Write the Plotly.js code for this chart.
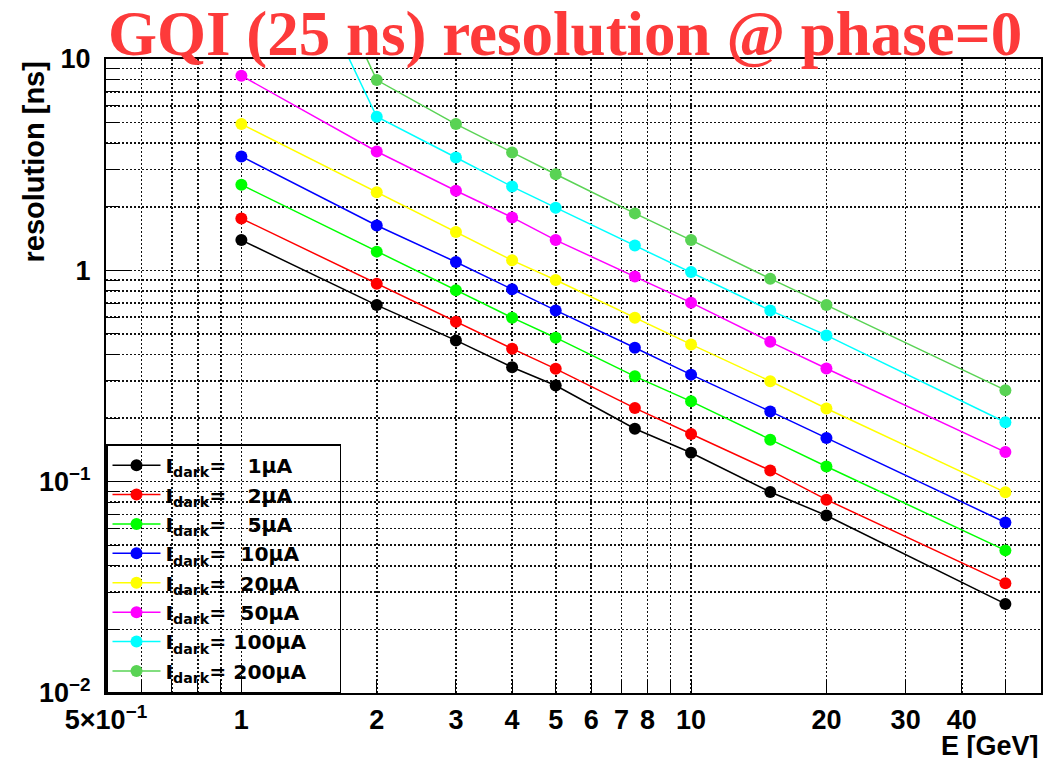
<!DOCTYPE html>
<html>
<head>
<meta charset="utf-8">
<script src="https://cdn.plot.ly/plotly-3.0.1.min.js"></script>
<style>
  html, body { margin: 0; padding: 0; background: #fff; }
  #chart { width: 1057px; height: 758px; }
</style>
</head>
<body>
<div id="chart"></div>
<script>
// Beam energies [GeV]
const energies = [1, 2, 3, 4, 5, 7.5, 10, 15, 20, 50];

// Time resolution [ns] for each dark current
const res_1uA   = [1.39, 0.685, 0.466, 0.348, 0.285, 0.178, 0.137, 0.0894, 0.0692, 0.0264];
const res_2uA   = [1.76, 0.865, 0.571, 0.426, 0.342, 0.223, 0.168, 0.113, 0.0822, 0.0331];
const res_5uA   = [2.54, 1.226, 0.804, 0.597, 0.480, 0.315, 0.240, 0.158, 0.118, 0.0473];
const res_10uA  = [3.46, 1.63, 1.095, 0.813, 0.646, 0.430, 0.321, 0.215, 0.161, 0.0641];
const res_20uA  = [4.92, 2.34, 1.52, 1.115, 0.90, 0.597, 0.446, 0.299, 0.222, 0.089];
const res_50uA  = [8.34, 3.65, 2.38, 1.78, 1.39, 0.934, 0.703, 0.459, 0.343, 0.138];
const res_100uA = [118, 5.33, 3.42, 2.49, 1.98, 1.31, 0.982, 0.646, 0.492, 0.191];
const res_200uA = [185, 7.95, 4.92, 3.61, 2.85, 1.86, 1.39, 0.913, 0.685, 0.271];

// Legend labels (non-breaking spaces keep the current values lined up and pad the box)
const NB = '\u00a0';
const pad = NB.repeat(4);
const seriesNames = [
  'I<sub>dark</sub>=' + NB.repeat(3) + '1\u03bcA' + pad,
  'I<sub>dark</sub>=' + NB.repeat(3) + '2\u03bcA' + pad,
  'I<sub>dark</sub>=' + NB.repeat(3) + '5\u03bcA' + pad,
  'I<sub>dark</sub>=' + NB.repeat(2) + '10\u03bcA' + pad,
  'I<sub>dark</sub>=' + NB.repeat(2) + '20\u03bcA' + pad,
  'I<sub>dark</sub>=' + NB.repeat(2) + '50\u03bcA' + pad,
  'I<sub>dark</sub>=' + NB + '100\u03bcA' + pad,
  'I<sub>dark</sub>=' + NB + '200\u03bcA' + pad
];
const seriesValues = [res_1uA, res_2uA, res_5uA, res_10uA, res_20uA, res_50uA, res_100uA, res_200uA];
const seriesColors = ['#000000', '#ff0000', '#00ff00', '#0000ff', '#ffff00', '#ff00ff', '#00ffff', '#59d354'];

// Axis ticks
const xTickVals  = [0.5, 1, 2, 3, 4, 5, 6, 7, 8, 10, 20, 30, 40];
const xTickText  = ['5\u00d710<sup>\u22121</sup>', '1', '2', '3', '4', '5', '6', '7', '8', '10', '20', '30', '40'];
const xMinorVals = [0.6, 0.7, 0.8, 0.9, 9, 50];
const xDecades   = [1, 10];
const yTickVals  = [0.01, 0.1, 1, 10];
const yTickText  = ['10<sup>\u22122</sup>', '10<sup>\u22121</sup>', '1', '10'];
const yMinorVals = [];
[0.01, 0.1, 1].forEach(d => { for (let k = 2; k <= 9; k++) yMinorVals.push(+(k * d).toPrecision(3)); });

const labelFont = { family: 'Liberation Sans, Arial, sans-serif', size: 27, color: '#000', weight: 'bold' };
const titleFont = { family: 'Liberation Sans, Arial, sans-serif', size: 29, color: '#000', weight: 'bold' };
const gridDash = '2px,2px';
const gridW = 1.6;
const gridC = '#111';

const traces = seriesValues.map((vals, i) => ({
  type: 'scatter',
  mode: 'lines+markers',
  x: energies,
  y: vals,
  name: seriesNames[i],
  line: { color: seriesColors[i], width: 1.5 },
  marker: { color: seriesColors[i], size: 12, symbol: 'circle' },
  cliponaxis: true
}));

const xRange = [Math.log10(0.5), Math.log10(60)];

const layout = {
  width: 1057,
  height: 758,
  margin: { l: 106, r: 16, t: 59, b: 65 },
  paper_bgcolor: '#fff',
  plot_bgcolor: '#fff',
  showlegend: true,
  title: {
    text: 'GQI (25 ns) resolution @ phase=0',
    font: { family: 'Liberation Serif, Times New Roman, serif', size: 63, color: '#fd3a3a', weight: 'bold' },
    xref: 'container', x: 108 / 1057, xanchor: 'left',
    yref: 'container', y: 1 - 33 / 758, yanchor: 'middle'
  },
  xaxis: {
    type: 'log',
    range: xRange,
    tickmode: 'array',
    tickvals: xTickVals,
    ticktext: xTickText,
    ticks: 'inside',
    ticklen: 13,
    tickwidth: 1,
    tickcolor: '#000',
    ticklabelstandoff: 2,
    tickfont: labelFont,
    showgrid: true,
    gridcolor: gridC,
    griddash: gridDash,
    gridwidth: gridW,
    minor: { tickmode: 'array', tickvals: xMinorVals, ticks: 'inside', ticklen: 13, tickcolor: '#000',
             showgrid: true, gridcolor: gridC, griddash: gridDash, gridwidth: gridW },
    showline: true, mirror: true, linecolor: '#000', linewidth: 2,
    zeroline: false
  },
  xaxis2: {
    type: 'log',
    range: xRange,
    overlaying: 'x',
    anchor: 'y',
    side: 'bottom',
    tickmode: 'array',
    tickvals: xDecades,
    ticks: 'inside',
    ticklen: 26,
    tickcolor: '#000',
    showticklabels: false,
    showgrid: false,
    showline: false,
    zeroline: false
  },
  yaxis: {
    type: 'log',
    range: [-2, 1],
    tickmode: 'array',
    tickvals: yTickVals,
    ticktext: yTickText,
    ticks: 'inside',
    ticklen: 26,
    tickwidth: 1,
    tickcolor: '#000',
    ticklabelstandoff: 8,
    tickfont: labelFont,
    showgrid: true,
    gridcolor: gridC,
    griddash: gridDash,
    gridwidth: gridW,
    minor: { tickmode: 'array', tickvals: yMinorVals, ticks: 'inside', ticklen: 13, tickcolor: '#000',
             showgrid: true, gridcolor: gridC, griddash: gridDash, gridwidth: gridW },
    showline: true, mirror: true, linecolor: '#000', linewidth: 2,
    zeroline: false
  },
  legend: {
    x: 0, y: 0, xanchor: 'left', yanchor: 'bottom',
    xref: 'paper', yref: 'paper',
    bgcolor: 'rgba(0,0,0,0)',
    bordercolor: '#000',
    borderwidth: 1.5,
    font: { family: 'DejaVu Sans, Liberation Sans, sans-serif', size: 20.3, color: '#000', weight: 'bold' },
    itemwidth: 48,
    tracegroupgap: 0
  },
  annotations: [
    {
      text: 'E [GeV]',
      xref: 'paper', yref: 'paper', x: 1, y: 0,
      xanchor: 'right', yanchor: 'top', yshift: -36,
      showarrow: false,
      font: labelFont
    },
    {
      text: 'resolution [ns]',
      xref: 'paper', yref: 'paper', x: 0, y: 1,
      xanchor: 'center', yanchor: 'top', xshift: -73, yshift: -1,
      textangle: -90,
      showarrow: false,
      font: titleFont
    }
  ]
};

Plotly.newPlot('chart', traces, layout, { displayModeBar: false, staticPlot: true });
</script>
</body>
</html>
